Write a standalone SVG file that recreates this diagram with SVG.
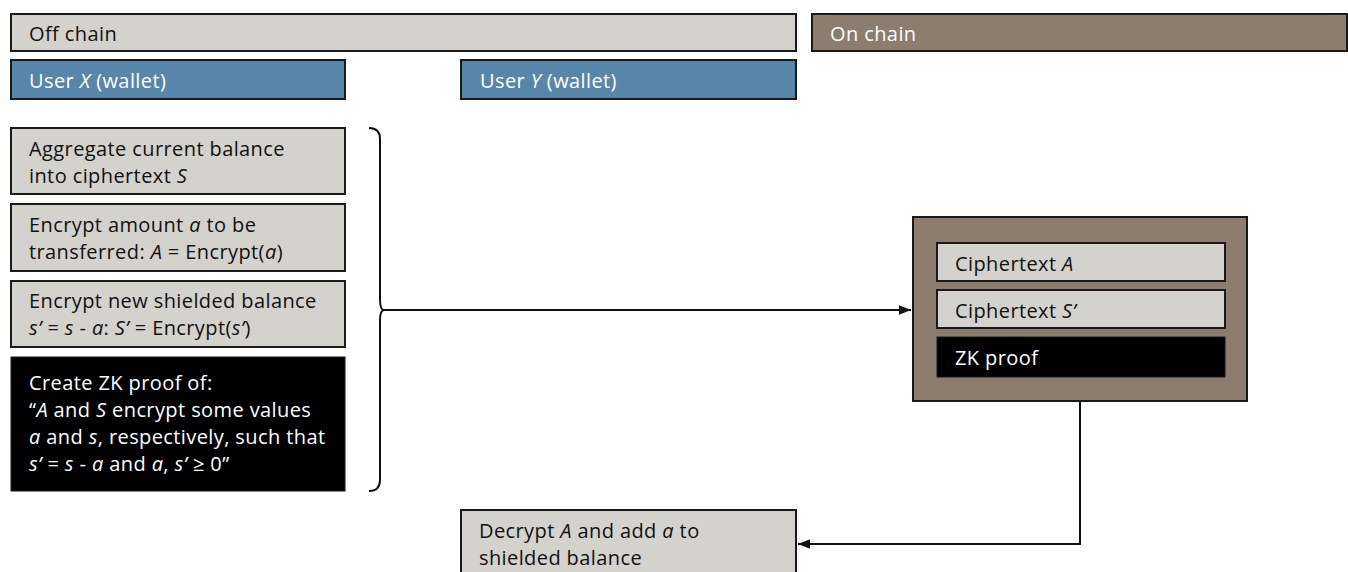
<svg xmlns="http://www.w3.org/2000/svg" width="1348" height="572" viewBox="0 0 1348 572">
  <defs>
    <style>
      text { font-family: "Open Sans", Lato, sans-serif; font-size: 20px; letter-spacing: 0.4px; }
      .gray { fill: #d3d2cd; stroke: #1a1a1a; stroke-width: 2; }
      .brown { fill: #8c7d6e; stroke: #1a1a1a; stroke-width: 2; }
      .blue { fill: #5886a8; stroke: #1a1a1a; stroke-width: 2; }
      .black { fill: #000; stroke: #1a1a1a; stroke-width: 1; }
      .dark { fill: #111; }
      .light { fill: #fff; }
      .it { font-style: italic; }
      .wire { fill: none; stroke: #111; stroke-width: 2; }
    </style>
    <marker id="arrow" viewBox="0 0 10 10" refX="10" refY="5" markerWidth="6" markerHeight="6" orient="auto" markerUnits="strokeWidth">
      <path d="M0,1 L10,5 L0,9 z" fill="#111"/>
    </marker>
  </defs>

  <!-- lane headers -->
  <g id="off-chain">
    <rect class="gray" x="11" y="14" width="785" height="37"/>
    <text class="dark" x="29" y="41">Off chain</text>
  </g>
  <g id="on-chain">
    <rect class="brown" x="812" y="14" width="535" height="37"/>
    <text class="light" x="830" y="41">On chain</text>
  </g>
  <g id="user-x">
    <rect class="blue" x="11" y="60" width="334" height="39"/>
    <text class="light" x="29" y="88">User <tspan class="it">X</tspan> (wallet)</text>
  </g>
  <g id="user-y">
    <rect class="blue" x="461" y="60" width="335" height="39"/>
    <text class="light" x="480" y="88">User <tspan class="it">Y</tspan> (wallet)</text>
  </g>

  <!-- sender steps -->
  <g id="aggregate">
    <rect class="gray" x="11" y="128" width="334" height="66"/>
    <text class="dark" x="29" y="156">Aggregate current balance</text>
    <text class="dark" x="29" y="183">into ciphertext <tspan class="it">S</tspan></text>
  </g>
  <g id="encrypt-amount">
    <rect class="gray" x="11" y="204" width="334" height="67"/>
    <text class="dark" x="29" y="232">Encrypt amount <tspan class="it">a</tspan> to be</text>
    <text class="dark" x="29" y="259">transferred: <tspan class="it">A</tspan> = Encrypt(<tspan class="it">a</tspan>)</text>
  </g>
  <g id="encrypt-balance">
    <rect class="gray" x="11" y="281" width="334" height="66"/>
    <text class="dark" x="29" y="308">Encrypt new shielded balance</text>
    <text class="dark" x="29" y="335"><tspan class="it">s’</tspan> = <tspan class="it">s</tspan> - <tspan class="it">a</tspan>: <tspan class="it">S’</tspan> = Encrypt(<tspan class="it">s’</tspan>)</text>
  </g>
  <g id="zk-proof-create">
    <rect class="black" x="11" y="357" width="334" height="134"/>
    <text class="light" x="29" y="390">Create ZK proof of:</text>
    <text class="light" x="29" y="417">“<tspan class="it">A</tspan> and <tspan class="it">S</tspan> encrypt some values</text>
    <text class="light" x="29" y="444"><tspan class="it">a</tspan> and <tspan class="it">s</tspan>, respectively, such that</text>
    <text class="light" x="29" y="471"><tspan class="it">s’</tspan> = <tspan class="it">s</tspan> - <tspan class="it">a</tspan> and <tspan class="it">a</tspan>, <tspan class="it">s’</tspan> ≥ 0”</text>
  </g>

  <!-- on-chain transaction -->
  <g id="transaction">
    <rect class="brown" x="913" y="217" width="334" height="184"/>
  </g>
  <g id="ciphertext-a">
    <rect class="gray" x="937" y="243" width="288" height="38"/>
    <text class="dark" x="955" y="271">Ciphertext <tspan class="it">A</tspan></text>
  </g>
  <g id="ciphertext-s">
    <rect class="gray" x="937" y="290" width="288" height="38"/>
    <text class="dark" x="955" y="318">Ciphertext <tspan class="it">S’</tspan></text>
  </g>
  <g id="zk-proof">
    <rect class="black" x="937" y="337" width="288" height="40"/>
    <text class="light" x="955" y="365">ZK proof</text>
  </g>

  <!-- receiver step -->
  <g id="decrypt">
    <rect class="gray" x="461" y="510" width="335" height="70"/>
    <text class="dark" x="479" y="538">Decrypt <tspan class="it">A</tspan> and add <tspan class="it">a</tspan> to</text>
    <text class="dark" x="479" y="565">shielded balance</text>
  </g>

  <!-- connectors -->
  <g id="connectors">
    <path class="wire" d="M369,128 Q380,128 380,139 L380,299 Q380,310 384,310 Q380,310 380,321 L380,480 Q380,491 369,491"/>
    <path class="wire" d="M384,310 L911,310" marker-end="url(#arrow)"/>
    <path class="wire" d="M1080,401 L1080,544 L798,544" marker-end="url(#arrow)"/>
  </g>
</svg>
